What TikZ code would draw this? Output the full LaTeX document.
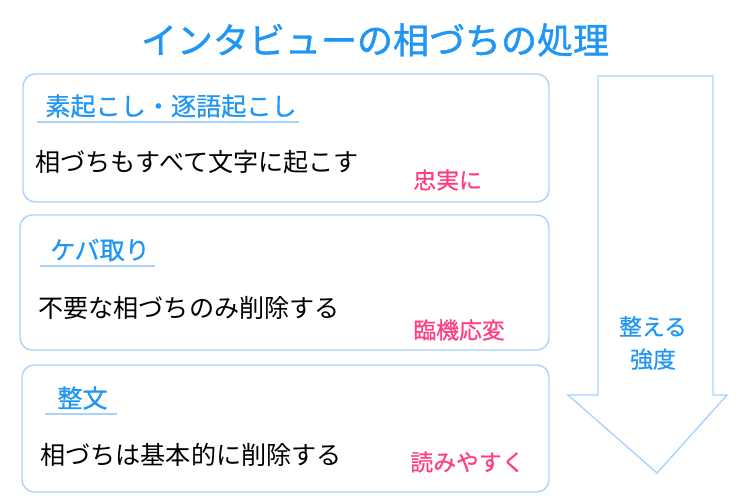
\documentclass[tikz,border=0pt]{standalone}
\usepackage{fontspec}
\setmainfont{Noto Sans CJK JP}
\newfontfamily\midfont[FakeBold=1.2]{Noto Sans CJK JP}
\newfontfamily\halffont[FakeBold=0.6]{Noto Sans CJK JP}
\definecolor{titleblue}{HTML}{2196F3}
\definecolor{lineblue}{HTML}{A9D3FB}
\definecolor{accentpink}{HTML}{FF3D7F}
\tikzset{
  box/.style={draw=lineblue, line width=0.8pt, rounded corners=7pt},
  head/.style={text=titleblue, font=\fontsize{14.3pt}{16pt}\halffont, inner sep=0pt, anchor=west},
  uline/.style={draw=lineblue, line width=0.8pt},
  body/.style={text=black, font=\fontsize{14.3pt}{16pt}\selectfont, inner sep=0pt, anchor=west},
  accent/.style={text=accentpink, font=\fontsize{13pt}{15pt}\halffont, inner sep=0pt, anchor=west}
}
\begin{document}
\begin{tikzpicture}[x=0.02cm,y=-0.02cm]
    \useasboundingbox (0,0) rectangle (750,500);

    % Draw title
    \node[text=titleblue, font=\fontsize{20.5pt}{24pt}\midfont] (title) at (375,40) {インタビューの相づちの処理};

    % Draw boxes
    \draw[box] (23,74) rectangle (549,202);
    \draw[box] (20,215) rectangle (549,350);
    \draw[box] (22,365) rectangle (549,492);

    % Draw first box texts
    \node[head] (h1) at (45,106) {素起こし・逐語起こし};
    \draw[uline] ([xshift=-0.16cm,yshift=-0.32cm]h1.west) -- ([xshift=0.04cm,yshift=-0.32cm]h1.east);
    \node[body] (b1) at (35,162) {相づちもすべて文字に起こす};
    \node[accent] (a1) at (413,180) {忠実に};

    % Draw second box texts
    \node[head] (h2) at (50,250) {ケバ取り};
    \draw[uline] ([xshift=-0.2cm,yshift=-0.32cm]h2.west) -- ([xshift=0.1cm,yshift=-0.32cm]h2.east);
    \node[body] (b2) at (38,308) {不要な相づちのみ削除する};
    \node[accent] (a2) at (413,330) {臨機応変};

    % Draw third box texts
    \node[head] (h3) at (57,398) {整文};
    \draw[uline] ([xshift=-0.24cm,yshift=-0.32cm]h3.west) -- ([xshift=0.18cm,yshift=-0.32cm]h3.east);
    \node[body] (b3) at (40,455) {相づちは基本的に削除する};
    \node[accent] (a3) at (410,462) {読みやすく};

    % Draw big arrow
    \draw[uline] (598,76) -- (713,76) -- (713,395) -- (727,395) -- (657,473)
        -- (568,395) -- (598,395) -- cycle;
    \node[text=titleblue, font=\fontsize{13pt}{18.5pt}\halffont, align=center] (arrowlabel) at (653,343) {整える\\強度};
\end{tikzpicture}
\end{document}
